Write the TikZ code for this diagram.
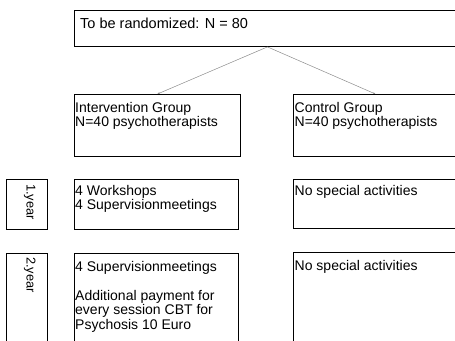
\documentclass[tikz,border=0pt]{standalone}
\usepackage{fontspec}
\setmainfont{Liberation Sans}
\usetikzlibrary{arrows.meta}
\tikzset{
  box/.style={draw=black, line width=0.9pt, inner sep=0pt, anchor=north west},
  txt/.style={inner sep=0pt, anchor=base west, font=\fontsize{14}{14.6}\selectfont},
  yeartxt/.style={txt, rotate=-90, font=\fontsize{12.8}{14}\selectfont},
  link/.style={draw=gray!90, line width=0.5pt, -{Stealth[length=2.5pt,width=2pt]}}
}
\newcommand{\lines}[2]{\parbox[t]{#1}{\raggedright #2}}
\begin{document}
\begin{tikzpicture}[x=1pt, y=-1pt]
  \useasboundingbox (0,0) rectangle (455,340);
  \clip (0,0) rectangle (455,340);

  % header
  \node[box, minimum width=386pt, minimum height=36pt] (top) at (74,10) {};
  \node[txt, font=\fontsize{14.5}{15}\selectfont] (toptxt) at (80,28) {To be randomized: N = 80};

  % the two groups
  \node[box, minimum width=166pt, minimum height=62pt] (ig) at (74,94) {};
  \node[txt] (igtxt) at (75,112) {\lines{6cm}{Intervention Group\\N=40 psychotherapists}};
  \node[box, minimum width=164pt, minimum height=62pt] (cg) at (293,94) {};
  \node[txt] (cgtxt) at (294.5,112) {\lines{6cm}{Control Group\\N=40 psychotherapists}};

  \draw[link] (top.south) -- (ig.north);
  \draw[link] (top.south) -- (cg.north);

  % first year
  \node[box, minimum width=41pt, minimum height=50pt] (y1) at (6,179) {};
  \node[yeartxt] (y1txt) at (26.5,184) {1.year};
  \node[box, minimum width=164pt, minimum height=50pt] (ig1) at (74,179) {};
  \node[txt] (ig1txt) at (75,195) {\lines{6cm}{4 Workshops\\4 Supervisionmeetings}};
  \node[box, minimum width=164pt, minimum height=49pt] (cg1) at (293,179) {};
  \node[txt] (cg1txt) at (294.5,195) {No special activities};

  % second year
  \node[box, minimum width=41pt, minimum height=100pt] (y2) at (6,253) {};
  \node[yeartxt] (y2txt) at (26.5,257) {2.year};
  \node[box, minimum width=164pt, minimum height=100pt] (ig2) at (74,253) {};
  \node[txt] (ig2txt) at (75,271) {\lines{6cm}{4 Supervisionmeetings\\[14.6pt]Additional payment for\\every session CBT for\\Psychosis 10 Euro}};
  \node[box, minimum width=164pt, minimum height=100pt] (cg2) at (293,252) {};
  \node[txt] (cg2txt) at (294.5,270) {No special activities};
\end{tikzpicture}
\end{document}
